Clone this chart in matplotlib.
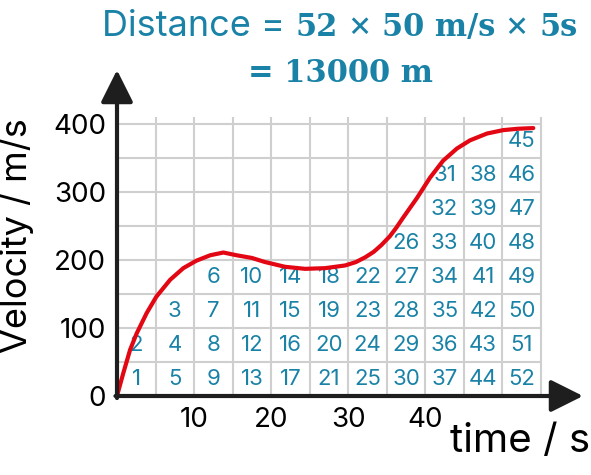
import matplotlib.pyplot as plt

# velocity-time curve
time_s = [0, 0.8, 1.7, 2.55, 3.85, 5.1, 6.9, 8.6, 10.3, 12.1, 13.8, 15.5,
          17.5, 19.2, 21.8, 24.4, 27, 29.6, 31, 32.2, 33.3, 34.3, 35.4,
          36.2, 37.1, 38.9, 40.6, 42.3, 44.1, 45.8, 48, 50.1, 52, 54]
velocity = [0, 33, 68, 92, 122, 146, 171, 188, 199, 207, 211, 207,
            203, 197, 190, 187, 188, 192, 197, 204, 212, 222, 235,
            247, 262, 291, 321, 346, 364, 376, 386, 391, 393, 394]

x_ticks = [10, 20, 30, 40]
y_ticks = [0, 100, 200, 300, 400]

# counted squares, one list per 5 s column, bottom row first
col_start = [0, 5, 10, 15, 20, 25, 30, 35, 40, 45, 50]
squares = [
    [1, 2],
    [5, 4, 3],
    [9, 8, 7, 6],
    [13, 12, 11, 10],
    [17, 16, 15, 14],
    [21, 20, 19, 18],
    [25, 24, 23, 22],
    [30, 29, 28, 27, 26],
    [37, 36, 35, 34, 33, 32, 31],
    [44, 43, 42, 41, 40, 39, 38],
    [52, 51, 50, 49, 48, 47, 46, 45],
]
cell_w = 5
cell_h = 50

teal = '#1a82a6'
red = '#e30613'
dark = '#1e1e1e'
grid_c = '#cfcfcf'
sans = 'Inter'

W, H = 591, 475
fig = plt.figure(figsize=(W / 100, H / 100), dpi=100)

# axes placed so that (0,0) sits at pixel (117,396), arrows end at 583 / 70
px_x = (541 - 117) / 55
px_y = (396 - 124) / 400
x_max = (583 - 117) / px_x
y_max = (396 - 70) / px_y
ax = fig.add_axes([117 / W, (H - 396) / H, (583 - 117) / W, (396 - 70) / H])
ax.set_xlim(0, x_max)
ax.set_ylim(0, y_max)
for s in ax.spines.values():
    s.set_visible(False)

# grid
ax.vlines([c + cell_w for c in col_start], 0, 410, color=grid_c, lw=1.5, zorder=1)
ax.hlines([cell_h * i for i in range(1, 9)], 0, 55, color=grid_c, lw=1.5, zorder=1)

# numbered squares
for c, nums in zip(col_start, squares):
    for row, n in enumerate(nums):
        ax.text(c + cell_w / 2, row * cell_h + cell_h / 2, str(n), ha='center',
                va='center', color=teal, fontsize=16, family=sans, zorder=2)

ax.plot(time_s, velocity, color=red, lw=3, solid_joinstyle='round',
        solid_capstyle='round', zorder=3)

# axis arrows
arrow = dict(arrowstyle='-|>,head_length=0.9,head_width=0.45', color=dark,
             lw=3, shrinkA=0, shrinkB=0, mutation_scale=22)
ax.annotate('', xy=(x_max, 0), xytext=(-0.2, 0), arrowprops=arrow, zorder=4,
            annotation_clip=False)
ax.annotate('', xy=(0, y_max), xytext=(0, -3), arrowprops=arrow, zorder=4,
            annotation_clip=False)

ax.set_xticks(x_ticks)
ax.set_yticks(y_ticks)
ax.tick_params(length=0, labelsize=20, colors='black')
ax.tick_params(axis='x', pad=8)
ax.tick_params(axis='y', pad=8)
for lab in ax.get_xticklabels() + ax.get_yticklabels():
    lab.set_family(sans)

fig.text(17 / W, 1 - 236 / H, 'Velocity / m/s', rotation=90, ha='center',
         va='center', fontsize=26, family=sans)
fig.text(520 / W, (H - 452) / H, 'time / s', ha='center', va='baseline',
         fontsize=29, family=sans)

# title built from sans and bold serif pieces
plain = dict(family=sans, fontsize=26, color=teal)
bold = dict(family='DejaVu Serif', fontweight='bold', fontsize=22, color=teal)
lines = [
    (36, [('Distance = ', plain), ('52', bold), (' \u00d7 ', plain),
          ('50 m/s', bold), (' \u00d7 ', plain), ('5s', bold)]),
    (82, [('= 13000 m', bold)]),
]
r = fig.canvas.get_renderer()
for base, pieces in lines:
    texts = []
    x = 0
    for s, kw in pieces:
        t = fig.text(x, (H - base) / H, s, ha='left', va='baseline', **kw)
        w = t.get_window_extent(renderer=r).width / W
        texts.append((t, x))
        x += w
    shift = 340 / W - x / 2
    for t, x0 in texts:
        t.set_x(x0 + shift)

fig.savefig('out.png', dpi=100)
